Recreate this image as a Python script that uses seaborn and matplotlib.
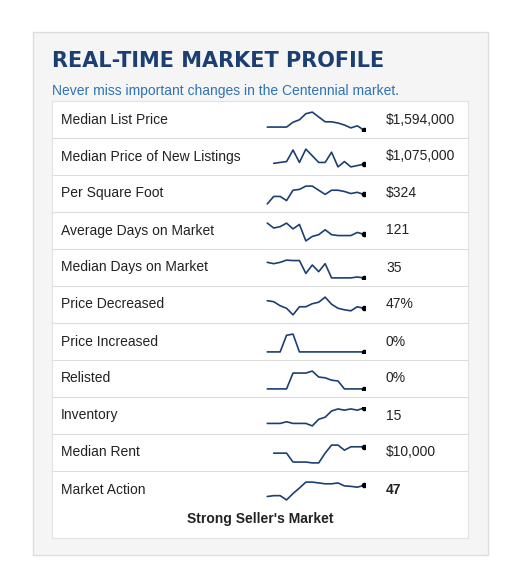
import numpy as np
import pandas as pd
import matplotlib
matplotlib.use("Agg")
import matplotlib.pyplot as plt
import seaborn as sns
from matplotlib.patches import Rectangle

sns.set_theme(style="white")
plt.rcParams['font.family'] = ['Liberation Sans', 'DejaVu Sans']

labels = ["Median List Price", "Median Price of New Listings", "Per Square Foot",
          "Average Days on Market", "Median Days on Market", "Price Decreased",
          "Price Increased", "Relisted", "Inventory", "Median Rent", "Market Action"]
values = ["$1,594,000", "$1,075,000", "$324", "121", "35", "47%", "0%", "0%", "15",
          "$10,000", "47"]
nan = np.nan
# sparkline series (higher = up)
series = [
    [-75, -75, -75, -75, -63, -57, -42, -38, -50, -62, -62, -65, -70, -77, -72, -82],
    [nan, -182, -180, -178, -152, -180, -150, -165, -180, -180, -157, -190, -178, -190, -187, -184],
    [-303, -285, -285, -295, -270, -268, -260, -260, -270, -280, -270, -270, -273, -278, -275, -280],
    [-372, -383, -380, -372, -385, -375, -412, -402, -398, -387, -398, -400, -400, -400, -393, -397],
    [-487, -490, -487, -482, -483, -483, -512, -493, -508, -490, -522, -522, -522, -522, -520, -522],
    [-600, -602, -610, -615, -628, -612, -612, -606, -603, -593, -607, -615, -618, -620, -612, -615],
    [-90, -90, -90, -48, -45, -90, -90, -90, -90, -90, -90, -90, -90, -90, -90, -90],
    [-200, -200, -200, -200, -160, -160, -160, -155, -170, -172, -178, -180, -200, -200, -200, -200],
    [-302, -302, -302, -298, -302, -302, -302, -308, -292, -287, -272, -267, -270, -267, -270, -265],
    [nan, -397, -397, -397, -418, -418, -418, -420, -420, -397, -378, -378, -390, -382, -382, -382],
    [-522, -520, -520, -530, -515, -502, -488, -488, -490, -492, -492, -490, -497, -498, -500, -496],
]
footer = "Strong Seller's Market"

W, H = 521, 588
fig = plt.figure(figsize=(W / 100, H / 100), dpi=100)
bg = fig.add_axes([0, 0, 1, 1])
bg.set_xlim(0, W); bg.set_ylim(H, 0); bg.axis("off")
bg.add_patch(Rectangle((33, 32), 455, 523, facecolor="#f5f5f5", edgecolor="#dddddd", lw=1))
bg.add_patch(Rectangle((52, 101), 416, 437, facecolor="white", edgecolor="#e3e3e3", lw=0.8))
bg.text(52, 61, "REAL-TIME MARKET PROFILE", fontsize=15, fontweight="bold",
        color="#1c3f73", va="center", ha="left", family=["DejaVu Sans"])
bg.text(52, 91, "Never miss important changes in the Centennial market.", fontsize=10,
        color="#2e72b8", va="center", ha="left")

row_h = 37
top0 = 101
for i, (lab, val, s) in enumerate(zip(labels, values, series)):
    top = top0 + row_h * i
    yc = top + row_h / 2
    if i > 0:
        bg.plot([52, 468], [top, top], color="#dddddd", lw=0.8)
    bold = "bold" if i == len(labels) - 1 else "normal"
    bg.text(61, yc, lab, fontsize=10, color="#222222", va="center", ha="left")
    bg.text(386, yc, val, fontsize=10, color="#222222", va="center", ha="left", fontweight=bold)
    ax = fig.add_axes([266 / W, 1 - (top + 30) / H, 99 / W, 20 / H])
    df = pd.DataFrame({"x": np.arange(len(s)), "y": s})
    sns.lineplot(data=df, x="x", y="y", ax=ax, color="#1c3f73", lw=1.2)
    ax.scatter([len(s) - 1], [s[-1]], s=9, color="black", marker="o", zorder=5)
    arr = np.array(s, dtype=float)
    lo, hi = np.nanmin(arr), np.nanmax(arr)
    pad = (hi - lo) * 0.05 + 0.5
    ax.set_ylim(lo - pad, hi + pad)
    ax.set_xlim(-0.2, len(s) - 0.8)
    ax.axis("off")

bg.text(260, 519, footer, fontsize=10, fontweight="bold", color="#222222",
        va="center", ha="center")
fig.savefig("out.png", dpi=100)
